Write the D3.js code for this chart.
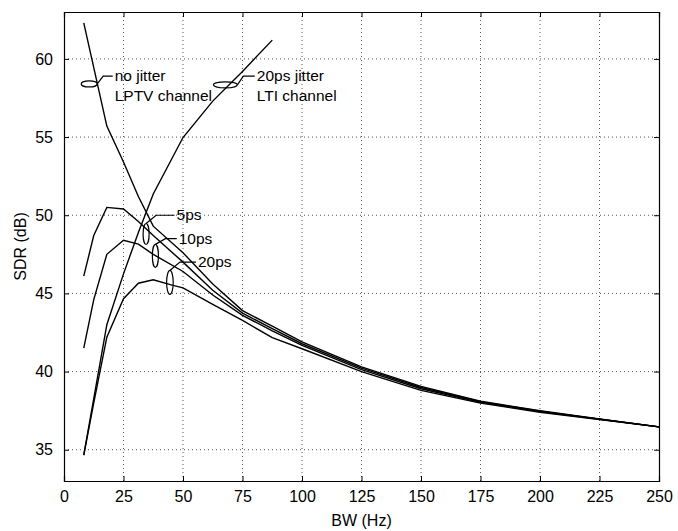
<!DOCTYPE html>
<html>
<head>
<meta charset="utf-8">
<script src="https://cdn.jsdelivr.net/npm/d3@7"></script>
<style>
  body { margin: 0; background: #fff; }
  text { font-family: "Liberation Sans", Arial, sans-serif; fill: #000; }
</style>
</head>
<body>
<svg id="chart" width="678" height="531"></svg>
<script>
// BW (Hz) vs SDR (dB)
const xTicks = [0, 25, 50, 75, 100, 125, 150, 175, 200, 225, 250]
const yTicks = [35, 40, 45, 50, 55, 60]

const noJitterLPTV = [[8.3, 62.3], [18, 55.7], [25, 53.4], [31.25, 51.2], [37.5, 49.3], [50, 47.6],
  [62.5, 45.6], [75, 43.9], [87.5, 42.9], [100, 41.9], [125, 40.3], [150, 39.05], [175, 38.1],
  [200, 37.5], [225, 36.97], [250, 36.46]]
const lptv5ps = [[8.3, 46.1], [12.5, 48.7], [18, 50.5], [25, 50.4], [31.25, 49.6], [37.5, 48.7], [50, 47.0],
  [62.5, 45.2], [75, 43.74], [87.5, 42.74], [100, 41.78], [125, 40.22], [150, 38.98], [175, 38.07],
  [200, 37.47], [225, 36.96], [250, 36.46]]
const lptv10ps = [[8.3, 41.5], [12.5, 44.6], [18, 47.5], [25, 48.4], [31.25, 48.15], [37.5, 47.5], [50, 46.4],
  [62.5, 44.9], [75, 43.6], [87.5, 42.6], [100, 41.67], [125, 40.12], [150, 38.9], [175, 38.03],
  [200, 37.44], [225, 36.95], [250, 36.46]]
const lptv20ps = [[8.3, 34.65], [12.5, 38.0], [18, 42.2], [25, 44.66], [31.25, 45.65], [37.5, 45.87], [45, 45.55],
  [50, 45.35], [62.5, 44.3], [75, 43.27], [87.5, 42.17], [100, 41.46], [125, 40.0], [150, 38.8],
  [175, 37.98], [200, 37.4], [225, 36.93], [250, 36.46]]
const lti20ps = [[8.3, 34.65], [18, 43.0], [25, 46.25], [31.25, 48.9], [37.5, 51.36], [50, 54.97],
  [62.5, 57.3], [75, 59.2], [87.5, 61.2]]

const series = [noJitterLPTV, lptv5ps, lptv10ps, lptv20ps, lti20ps]

// annotations: ellipse centre, radii, leader end, text lines
const notes = [
  { cx: 10.6, cy: 58.4, rx: 8, ry: 3, lx: 21.3, ly: 58.9, lines: ['no jitter', 'LPTV channel'] },
  { cx: 67.8, cy: 58.34, rx: 12, ry: 3, lx: 81, ly: 58.9, lines: ['20ps jitter', 'LTI channel'] },
  { cx: 34.5, cy: 48.8, rx: 3, ry: 10.5, lx: 47.3, ly: 50.0, lines: ['5ps'] },
  { cx: 38.4, cy: 47.4, rx: 3, ry: 11.5, lx: 48.2, ly: 48.5, lines: ['10ps'] },
  { cx: 44.5, cy: 45.7, rx: 3.3, ry: 12, lx: 56.3, ly: 47.0, lines: ['20ps'] }
]

const svg = d3.select('#chart')
const mLeft = 64, mRight = 659, mTop = 12, mBottom = 481

const x = d3.scaleLinear().domain([0, 250]).range([mLeft, mRight])
const y = d3.scaleLinear().domain([33, 63]).range([mBottom, mTop])

// grid
const grid = svg.append('g')
grid.selectAll('line.gx')
  .data(xTicks.slice(1, -1))
  .enter().append('line')
  .attr('x1', d => x(d)).attr('x2', d => x(d))
  .attr('y1', mTop).attr('y2', mBottom)
  .attr('stroke', '#555').attr('stroke-width', 1)
  .attr('stroke-dasharray', '1,3')
grid.selectAll('line.gy')
  .data(yTicks)
  .enter().append('line')
  .attr('x1', mLeft).attr('x2', mRight)
  .attr('y1', d => y(d)).attr('y2', d => y(d))
  .attr('stroke', '#555').attr('stroke-width', 1)
  .attr('stroke-dasharray', '1,3')

// axes
const xAxis = d3.axisBottom(x).tickValues(xTicks).tickSize(-5).tickPadding(10).tickFormat(d3.format('d'))
const yAxis = d3.axisLeft(y).tickValues(yTicks).tickSize(-5).tickPadding(11)

const gx = svg.append('g').attr('transform', `translate(0,${mBottom})`).call(xAxis)
const gy = svg.append('g').attr('transform', `translate(${mLeft},0)`).call(yAxis)
svg.append('g').attr('transform', `translate(0,${mTop})`)
  .call(d3.axisTop(x).tickValues(xTicks).tickSize(-5).tickFormat(''))
svg.append('g').attr('transform', `translate(${mRight},0)`)
  .call(d3.axisRight(y).tickValues(yTicks).tickSize(-5).tickFormat(''))

svg.selectAll('.domain').attr('stroke', '#000').attr('stroke-width', 1.2)
svg.selectAll('.tick line').attr('stroke', '#000')
gx.selectAll('text').attr('font-size', 16).attr('font-family', 'Liberation Sans, Arial, sans-serif')
gy.selectAll('text').attr('font-size', 16).attr('font-family', 'Liberation Sans, Arial, sans-serif')

svg.append('text')
  .attr('x', (mLeft + mRight) / 2).attr('y', 526)
  .attr('text-anchor', 'middle').attr('font-size', 16)
  .text('BW (Hz)')
svg.append('text')
  .attr('transform', `translate(26,${(mTop + mBottom) / 2}) rotate(-90)`)
  .attr('text-anchor', 'middle').attr('font-size', 16)
  .text('SDR (dB)')

// curves
const line = d3.line().x(d => x(d[0])).y(d => y(d[1]))
svg.append('g').selectAll('path')
  .data(series)
  .enter().append('path')
  .attr('d', line)
  .attr('fill', 'none')
  .attr('stroke', '#000')
  .attr('stroke-width', 1.4)

// annotations
const ann = svg.append('g')
notes.forEach(n => {
  const cx = x(n.cx), cy = y(n.cy)
  ann.append('ellipse')
    .attr('cx', cx).attr('cy', cy).attr('rx', n.rx).attr('ry', n.ry)
    .attr('fill', 'none').attr('stroke', '#000').attr('stroke-width', 1.2)
  const lx = x(n.lx) - 2, ly = y(n.ly)
  // leader starts at ellipse edge: right edge for wide, top for tall
  const sx = n.rx > n.ry ? cx + n.rx : cx
  const sy = n.rx > n.ry ? cy : cy - n.ry
  const kx = n.rx > n.ry ? sx + 6 : sx + 10
  ann.append('path')
    .attr('d', `M${sx},${sy} L${kx},${ly} L${lx},${ly}`)
    .attr('fill', 'none').attr('stroke', '#000').attr('stroke-width', 1.2)
  n.lines.forEach((t, i) => {
    ann.append('text')
      .attr('x', x(n.lx)).attr('y', ly + 5 + i * 20)
      .attr('font-size', 15.5)
      .text(t)
  })
})
</script>
</body>
</html>
